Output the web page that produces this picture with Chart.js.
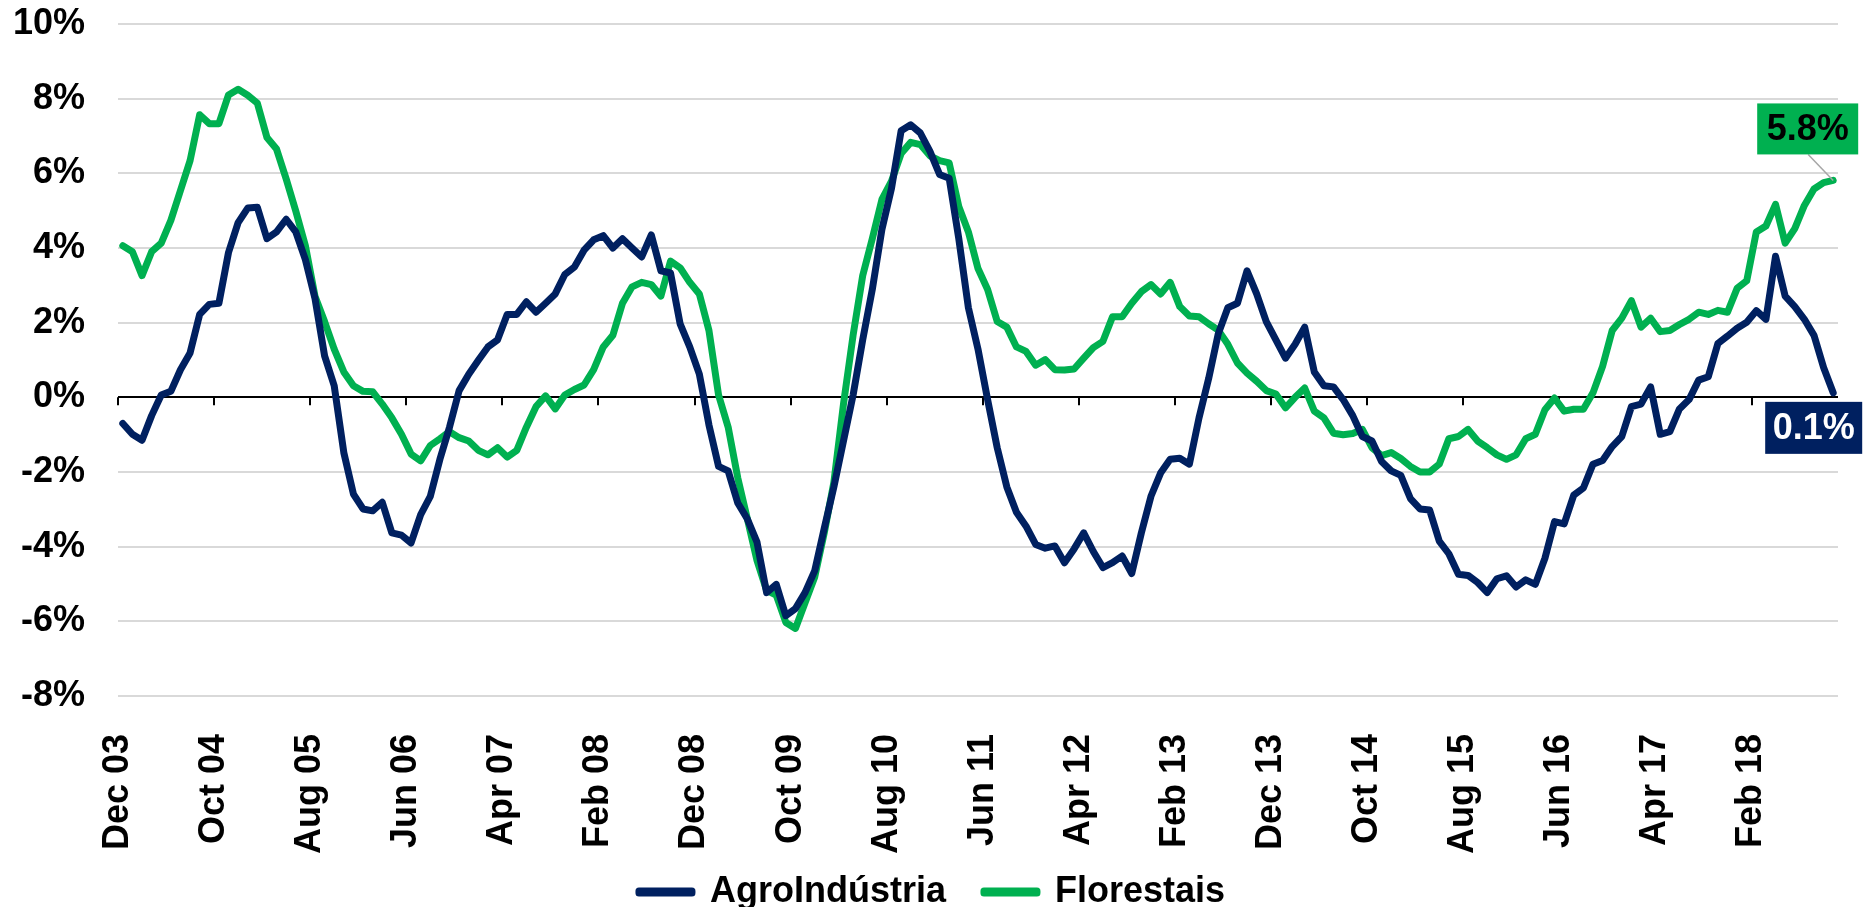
<!DOCTYPE html>
<html lang="pt">
<head>
<meta charset="UTF-8">
<title>AgroIndústria vs Florestais</title>
<script src="https://cdn.jsdelivr.net/npm/chart.js"></script>
<style>
  * { margin: 0; padding: 0; box-sizing: border-box; }
  html, body { width: 1864px; height: 907px; background: #fff; overflow: hidden; }
  .wrap { position: relative; width: 1864px; height: 907px; }
</style>
</head>
<body>
<div class="wrap"><canvas id="chart"></canvas></div>
<script>
// monthly series, Dec 03 .. Oct 18 (179 months)
const monthNames = ['Jan','Feb','Mar','Apr','May','Jun','Jul','Aug','Sep','Oct','Nov','Dec'];
const months = [];
for (let i = 0; i < 179; i++) {
  const m = (11 + i) % 12, y = 3 + Math.floor((11 + i) / 12);
  months.push(monthNames[m] + ' ' + String(y).padStart(2, '0'));
}

// x tick labels, one every 10 months
const tickLabels = ['Dec 03','Oct 04','Aug 05','Jun 06','Apr 07','Feb 08','Dec 08','Oct 09','Aug 10',
  'Jun 11','Apr 12','Feb 13','Dec 13','Oct 14','Aug 15','Jun 16','Apr 17','Feb 18'];

const agro = [
  -0.70,-0.99,-1.15,-0.49,0.06,0.16,0.74,1.19,2.22,2.49,
  2.52,3.88,4.68,5.07,5.09,4.25,4.43,4.77,4.43,3.69,
  2.65,1.11,0.31,-1.48,-2.59,-2.99,-3.04,-2.81,-3.63,-3.69,
  -3.90,-3.14,-2.65,-1.66,-0.80,0.18,0.62,0.99,1.35,1.54,
  2.22,2.22,2.56,2.28,2.52,2.77,3.29,3.49,3.94,4.22,
  4.33,4.00,4.25,4.00,3.76,4.35,3.39,3.33,1.97,1.35,
  0.62,-0.74,-1.85,-1.97,-2.83,-3.26,-3.88,-5.23,-5.01,-5.85,
  -5.66,-5.23,-4.65,-3.51,-2.40,-1.17,0.06,1.54,2.89,4.50,
  5.60,7.14,7.30,7.08,6.59,5.97,5.87,4.25,2.40,1.29,
  -0.06,-1.35,-2.40,-3.08,-3.45,-3.94,-4.04,-3.98,-4.43,-4.06,
  -3.63,-4.13,-4.56,-4.43,-4.25,-4.72,-3.63,-2.65,-2.03,-1.66,
  -1.63,-1.79,-0.55,0.50,1.70,2.40,2.52,3.39,2.77,2.03,
  1.54,1.05,1.42,1.88,0.68,0.31,0.28,-0.06,-0.49,-1.05,
  -1.17,-1.72,-1.97,-2.09,-2.71,-2.99,-3.02,-3.85,-4.19,-4.74,
  -4.77,-4.96,-5.23,-4.86,-4.78,-5.08,-4.89,-5.01,-4.31,-3.33,
  -3.39,-2.62,-2.43,-1.79,-1.69,-1.32,-1.05,-0.25,-0.18,0.28,
  -0.99,-0.92,-0.31,-0.06,0.46,0.55,1.44,1.64,1.85,2.01,
  2.32,2.09,3.78,2.71,2.43,2.09,1.66,0.80,0.12
];

const florestais = [
  4.06,3.90,3.26,3.90,4.13,4.74,5.54,6.34,7.57,7.33,
  7.33,8.10,8.25,8.09,7.88,6.96,6.65,5.85,4.99,4.06,
  2.71,2.03,1.29,0.68,0.31,0.16,0.15,-0.18,-0.55,-0.99,
  -1.52,-1.70,-1.29,-1.11,-0.92,-1.08,-1.17,-1.42,-1.54,-1.35,
  -1.60,-1.42,-0.80,-0.25,0.04,-0.31,0.06,0.21,0.33,0.74,
  1.35,1.66,2.52,2.96,3.08,3.02,2.71,3.65,3.47,3.08,
  2.77,1.79,0.06,-0.80,-2.16,-3.26,-4.37,-5.17,-5.30,-6.03,
  -6.19,-5.50,-4.82,-3.63,-2.28,-0.18,1.66,3.26,4.25,5.30,
  5.79,6.53,6.83,6.77,6.47,6.34,6.28,5.11,4.43,3.45,
  2.89,2.03,1.88,1.35,1.23,0.86,1.01,0.74,0.73,0.76,
  1.05,1.33,1.50,2.16,2.16,2.52,2.83,3.02,2.77,3.08,
  2.43,2.18,2.16,1.97,1.80,1.42,0.92,0.65,0.43,0.18,
  0.09,-0.28,0.00,0.25,-0.37,-0.55,-0.96,-1.00,-0.97,-0.86,
  -1.35,-1.56,-1.48,-1.64,-1.85,-2.00,-2.00,-1.79,-1.11,-1.05,
  -0.86,-1.17,-1.35,-1.54,-1.66,-1.54,-1.11,-0.99,-0.33,-0.02,
  -0.37,-0.32,-0.32,0.12,0.83,1.79,2.12,2.59,1.88,2.12,
  1.76,1.79,1.95,2.09,2.28,2.22,2.33,2.28,2.92,3.12,
  4.43,4.59,5.17,4.13,4.52,5.14,5.58,5.75,5.81
];

const NAVY = '#002060';
const GREEN = '#00b050';
const FONT = "'Liberation Sans', Arial, sans-serif";

const toPoints = arr => arr.map((v, i) => ({ x: i + 0.5, y: v }));

// rotated x labels hang below the fitted axis box; legend centred on the full canvas
const layoutTweak = {
  id: 'layoutTweak',
  afterLayout(chart) {
    chart.scales.x.bottom = chart.height;
    chart.legend.left += 13;
    chart.legend.right += 13;
  }
};

// small tick marks hanging from the 0% line
const zeroTicks = {
  id: 'zeroTicks',
  beforeDatasetsDraw(chart) {
    const { ctx, scales: { x, y } } = chart;
    const y0 = y.getPixelForValue(0);
    ctx.save();
    ctx.strokeStyle = '#000';
    ctx.lineWidth = 2;
    x.ticks.forEach(t => {
      const px = Math.round(x.getPixelForValue(t.value));
      ctx.beginPath();
      ctx.moveTo(px, y0);
      ctx.lineTo(px, y0 + 8);
      ctx.stroke();
    });
    ctx.restore();
  }
};

// value boxes at the end of both series
const endLabels = {
  id: 'endLabels',
  afterDatasetsDraw(chart) {
    const { ctx } = chart;
    const last = agro.length - 1;
    const n = chart.getDatasetMeta(0).data[last];
    const g = chart.getDatasetMeta(1).data[last];
    const box = (x, y, w, h, fill, color, text) => {
      ctx.fillStyle = fill;
      ctx.fillRect(x, y, w, h);
      ctx.fillStyle = color;
      ctx.font = 'bold 36px ' + FONT;
      ctx.textAlign = 'center';
      ctx.textBaseline = 'middle';
      ctx.fillText(text, x + w / 2, y + h / 2 + 1);
    };
    ctx.save();
    ctx.strokeStyle = '#a6a6a6';
    ctx.lineWidth = 1.5;
    ctx.beginPath();
    ctx.moveTo(g.x - 25, g.y - 26);
    ctx.lineTo(g.x, g.y);
    ctx.stroke();
    box(g.x - 76, g.y - 77, 101, 51, GREEN, '#000', florestais[last].toFixed(1) + '%');
    box(n.x - 68, n.y + 9, 97, 52, NAVY, '#fff', agro[last].toFixed(1) + '%');
    ctx.restore();
  }
};

new Chart(document.getElementById('chart'), {
  type: 'line',
  data: {
    datasets: [
      { label: 'AgroIndústria', data: toPoints(agro), borderColor: NAVY, backgroundColor: NAVY },
      { label: 'Florestais', data: toPoints(florestais), borderColor: GREEN, backgroundColor: GREEN }
    ]
  },
  options: {
    responsive: true,
    maintainAspectRatio: false,
    animation: false,
    datasets: {
      line: {
        borderWidth: 7,
        pointRadius: 0,
        tension: 0,
        fill: false,
        borderJoinStyle: 'round',
        borderCapStyle: 'round'
      }
    },
    layout: { padding: { left: 0, right: 26, top: 24, bottom: -13 } },
    scales: {
      x: {
        type: 'linear',
        min: 0,
        max: months.length,
        afterFit: s => { s.height = 140; },
        grid: { display: false },
        border: { display: false },
        ticks: {
          stepSize: 10,
          includeBounds: false,
          autoSkip: false,
          maxRotation: 90,
          minRotation: 90,
          padding: 30,
          color: '#000',
          font: { family: FONT, size: 36, weight: 'bold' },
          callback: v => tickLabels[v / 10] || ''
        }
      },
      y: {
        min: -8,
        max: 10,
        afterFit: s => { s.width = 118; },
        grid: {
          drawTicks: true,
          tickLength: 33,
          tickColor: 'rgba(0,0,0,0)',
          lineWidth: 2,
          color: c => c.tick && c.tick.value === 0 ? '#000' : '#d9d9d9'
        },
        border: { display: false },
        ticks: {
          stepSize: 2,
          padding: 0,
          color: '#000',
          font: { family: FONT, size: 36, weight: 'bold' },
          callback: v => v + '%'
        }
      }
    },
    plugins: {
      tooltip: { enabled: false },
      legend: {
        position: 'bottom',
        labels: {
          color: '#000',
          font: { family: FONT, size: 36, weight: 'bold', lineHeight: 1 },
          boxWidth: 53,
          boxHeight: 2,
          padding: 38
        }
      }
    }
  },
  plugins: [layoutTweak, zeroTicks, endLabels]
});
</script>
</body>
</html>
